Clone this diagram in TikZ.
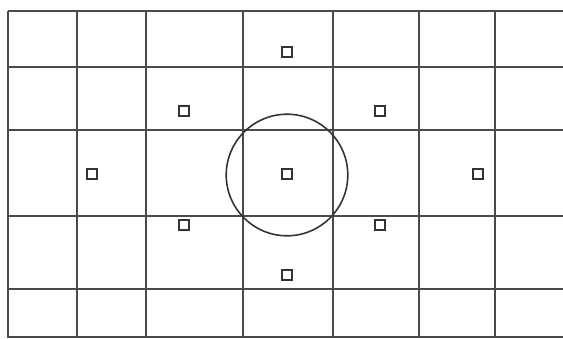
\documentclass[tikz,border=0pt]{standalone}
\usepackage{tikz}
\definecolor{cGrid}{HTML}{4A4A4A}
\definecolor{cMark}{HTML}{333333}
\tikzset{
  gridline/.style={draw=cGrid,line width=1.1pt},
  afpoint/.style={draw=cMark,line width=1pt,fill=white,minimum size=5.4pt,
      inner sep=0pt,outer sep=0pt},
  spotring/.style={draw=cMark,line width=0.9pt,circle,inner sep=0pt,minimum size=69.2pt},
}
\begin{document}
\begin{tikzpicture}[x=0.02cm,y=-0.02cm]
  \useasboundingbox (0,0) rectangle (563,338);

  % grid
  \foreach \gx in {8,77,146,243,333,419,495}
    \draw[gridline] (\gx,11) -- (\gx,338);
  \foreach \gy in {11,67,130,216,289,337}
    \draw[gridline] (8,\gy) -- (563,\gy);

  % metering circle
  \node[spotring] (ring) at (287,175) {};

  % focus points
  \node[afpoint] (ptop) at (287,52) {};
  \node[afpoint] (pul) at (184,111) {};
  \node[afpoint] (pur) at (380,111) {};
  \node[afpoint] (pleft) at (92,174) {};
  \node[afpoint] (pmid) at (287,174) {};
  \node[afpoint] (pright) at (478,174) {};
  \node[afpoint] (pll) at (184,225) {};
  \node[afpoint] (plr) at (380,225) {};
  \node[afpoint] (pbot) at (287,275) {};
\end{tikzpicture}
\end{document}
